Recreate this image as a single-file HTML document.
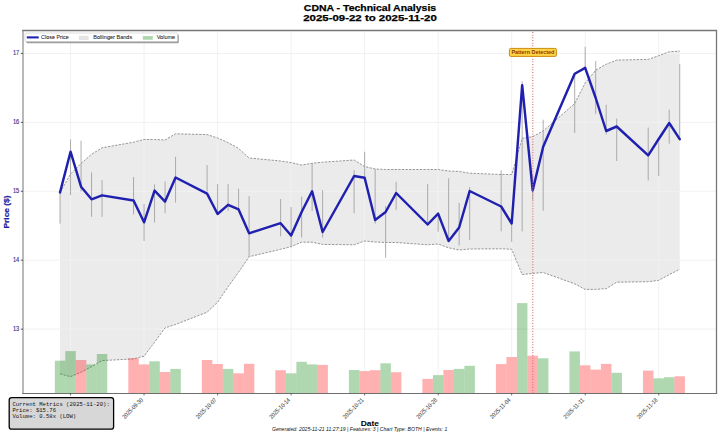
<!DOCTYPE html>
<html><head><meta charset="utf-8"><style>
html,body{margin:0;padding:0;background:#fff;}
body{width:720px;height:435px;overflow:hidden;}
svg{display:block;font-family:"Liberation Sans",sans-serif;}
</style></head><body>
<svg width="720" height="435" viewBox="0 0 720 435">
<defs><mask id="gm" maskUnits="userSpaceOnUse" x="0" y="0" width="720" height="435"><rect x="0" y="0" width="720" height="435" fill="#fff"/><rect x="54.49" y="360.7" width="11.1" height="34.8" fill="#000"/><rect x="64.99" y="351.1" width="11.1" height="44.4" fill="#000"/><rect x="75.49" y="360" width="11.1" height="35.5" fill="#000"/><rect x="86" y="364.4" width="11.1" height="31.1" fill="#000"/><rect x="96.5" y="354" width="11.1" height="41.5" fill="#000"/><rect x="128.01" y="358.2" width="11.1" height="37.3" fill="#000"/><rect x="138.51" y="364.4" width="11.1" height="31.1" fill="#000"/><rect x="149.02" y="361.3" width="11.1" height="34.2" fill="#000"/><rect x="159.52" y="372" width="11.1" height="23.5" fill="#000"/><rect x="170.02" y="368.9" width="11.1" height="26.6" fill="#000"/><rect x="201.53" y="360" width="11.1" height="35.5" fill="#000"/><rect x="212.03" y="364" width="11.1" height="31.5" fill="#000"/><rect x="222.54" y="368.9" width="11.1" height="26.6" fill="#000"/><rect x="233.04" y="373.3" width="11.1" height="22.2" fill="#000"/><rect x="243.54" y="363.8" width="11.1" height="31.7" fill="#000"/><rect x="275.05" y="370.2" width="11.1" height="25.3" fill="#000"/><rect x="285.55" y="373.3" width="11.1" height="22.2" fill="#000"/><rect x="296.06" y="361.8" width="11.1" height="33.7" fill="#000"/><rect x="306.56" y="364.4" width="11.1" height="31.1" fill="#000"/><rect x="317.06" y="364.9" width="11.1" height="30.6" fill="#000"/><rect x="348.57" y="370" width="11.1" height="25.5" fill="#000"/><rect x="359.08" y="371.1" width="11.1" height="24.4" fill="#000"/><rect x="369.58" y="370.2" width="11.1" height="25.3" fill="#000"/><rect x="380.08" y="363.3" width="11.1" height="32.2" fill="#000"/><rect x="390.58" y="372.2" width="11.1" height="23.3" fill="#000"/><rect x="422.09" y="378.9" width="11.1" height="16.6" fill="#000"/><rect x="432.6" y="375.1" width="11.1" height="20.4" fill="#000"/><rect x="443.1" y="370" width="11.1" height="25.5" fill="#000"/><rect x="453.6" y="368.9" width="11.1" height="26.6" fill="#000"/><rect x="464.11" y="365.8" width="11.1" height="29.7" fill="#000"/><rect x="495.61" y="364.1" width="11.1" height="31.4" fill="#000"/><rect x="506.12" y="357" width="11.1" height="38.5" fill="#000"/><rect x="516.62" y="303.1" width="11.1" height="92.4" fill="#000"/><rect x="527.12" y="355.7" width="11.1" height="39.8" fill="#000"/><rect x="537.63" y="358.3" width="11.1" height="37.2" fill="#000"/><rect x="569.14" y="351.4" width="11.1" height="44.1" fill="#000"/><rect x="579.64" y="365.3" width="11.1" height="30.2" fill="#000"/><rect x="590.14" y="369.6" width="11.1" height="25.9" fill="#000"/><rect x="600.64" y="363.9" width="11.1" height="31.6" fill="#000"/><rect x="611.15" y="372.8" width="11.1" height="22.7" fill="#000"/><rect x="642.66" y="370.6" width="11.1" height="24.9" fill="#000"/><rect x="653.16" y="378.3" width="11.1" height="17.2" fill="#000"/><rect x="663.66" y="377.2" width="11.1" height="18.3" fill="#000"/><rect x="674.17" y="376.3" width="11.1" height="19.2" fill="#000"/></mask><clipPath id="fc"><path d="M60.04 192.4 L70.54 174 L81.05 163.5 L91.55 154.3 L102.05 147.8 L133.56 142.2 L144.06 139.5 L154.57 139.5 L165.07 140 L175.57 133.8 L207.08 134.6 L217.59 138 L228.09 142.6 L238.59 148.4 L249.09 158 L280.6 161 L291.11 162.6 L301.61 165 L312.11 163.3 L322.62 162.2 L354.12 160 L364.63 166.5 L375.13 169 L385.63 169.5 L396.14 169.5 L427.65 169.5 L438.15 169.5 L448.65 171 L459.15 171.4 L469.66 173.2 L501.17 174.5 L511.67 174.5 L522.17 138.3 L532.67 136.7 L543.18 131 L574.69 103.6 L585.19 83 L595.69 70.2 L606.2 64.2 L616.7 60.1 L648.21 59.4 L658.71 55.7 L669.21 51.8 L679.72 51.1 L679.72 269.2 L669.21 274.7 L658.71 280.3 L648.21 281.7 L616.7 282.2 L606.2 288.6 L595.69 289.4 L585.19 289.4 L574.69 283.8 L543.18 272.5 L532.67 273.4 L522.17 274.6 L511.67 249.2 L501.17 248.8 L469.66 249 L459.15 250 L448.65 247.8 L438.15 244 L427.65 244.8 L396.14 242.5 L385.63 242.5 L375.13 242 L364.63 241 L354.12 244.8 L322.62 244.4 L312.11 242.2 L301.61 242.2 L291.11 246.7 L280.6 249.3 L249.09 256.7 L238.59 272.2 L228.09 286.7 L217.59 302.2 L207.08 312.2 L175.57 324.5 L165.07 327.8 L154.57 342.2 L144.06 356.2 L133.56 358.9 L102.05 360.6 L91.55 366.7 L81.05 372.2 L70.54 376.7 L60.04 373.8 Z"/></clipPath></defs>
<line x1="23.0" x2="716.5" y1="53.45" y2="53.45" stroke="#ececec" stroke-width="0.75"/>
<line x1="23.0" x2="716.5" y1="122.36" y2="122.36" stroke="#ececec" stroke-width="0.75"/>
<line x1="23.0" x2="716.5" y1="191.27" y2="191.27" stroke="#ececec" stroke-width="0.75"/>
<line x1="23.0" x2="716.5" y1="260.18" y2="260.18" stroke="#ececec" stroke-width="0.75"/>
<line x1="23.0" x2="716.5" y1="329.1" y2="329.1" stroke="#ececec" stroke-width="0.75"/>
<g mask="url(#gm)">
<line x1="70.54" x2="70.54" y1="30.5" y2="393.5" stroke="#ececec" stroke-width="0.75"/>
<line x1="144.06" x2="144.06" y1="30.5" y2="393.5" stroke="#ececec" stroke-width="0.75"/>
<line x1="217.59" x2="217.59" y1="30.5" y2="393.5" stroke="#ececec" stroke-width="0.75"/>
<line x1="291.11" x2="291.11" y1="30.5" y2="393.5" stroke="#ececec" stroke-width="0.75"/>
<line x1="364.63" x2="364.63" y1="30.5" y2="393.5" stroke="#ececec" stroke-width="0.75"/>
<line x1="438.15" x2="438.15" y1="30.5" y2="393.5" stroke="#ececec" stroke-width="0.75"/>
<line x1="511.67" x2="511.67" y1="30.5" y2="393.5" stroke="#ececec" stroke-width="0.75"/>
<line x1="585.19" x2="585.19" y1="30.5" y2="393.5" stroke="#ececec" stroke-width="0.75"/>
<line x1="658.71" x2="658.71" y1="30.5" y2="393.5" stroke="#ececec" stroke-width="0.75"/>
</g>
<path d="M60.04 192.4 L70.54 174 L81.05 163.5 L91.55 154.3 L102.05 147.8 L133.56 142.2 L144.06 139.5 L154.57 139.5 L165.07 140 L175.57 133.8 L207.08 134.6 L217.59 138 L228.09 142.6 L238.59 148.4 L249.09 158 L280.6 161 L291.11 162.6 L301.61 165 L312.11 163.3 L322.62 162.2 L354.12 160 L364.63 166.5 L375.13 169 L385.63 169.5 L396.14 169.5 L427.65 169.5 L438.15 169.5 L448.65 171 L459.15 171.4 L469.66 173.2 L501.17 174.5 L511.67 174.5 L522.17 138.3 L532.67 136.7 L543.18 131 L574.69 103.6 L585.19 83 L595.69 70.2 L606.2 64.2 L616.7 60.1 L648.21 59.4 L658.71 55.7 L669.21 51.8 L679.72 51.1 L679.72 269.2 L669.21 274.7 L658.71 280.3 L648.21 281.7 L616.7 282.2 L606.2 288.6 L595.69 289.4 L585.19 289.4 L574.69 283.8 L543.18 272.5 L532.67 273.4 L522.17 274.6 L511.67 249.2 L501.17 248.8 L469.66 249 L459.15 250 L448.65 247.8 L438.15 244 L427.65 244.8 L396.14 242.5 L385.63 242.5 L375.13 242 L364.63 241 L354.12 244.8 L322.62 244.4 L312.11 242.2 L301.61 242.2 L291.11 246.7 L280.6 249.3 L249.09 256.7 L238.59 272.2 L228.09 286.7 L217.59 302.2 L207.08 312.2 L175.57 324.5 L165.07 327.8 L154.57 342.2 L144.06 356.2 L133.56 358.9 L102.05 360.6 L91.55 366.7 L81.05 372.2 L70.54 376.7 L60.04 373.8 Z" fill="#ebebeb"/>
<g clip-path="url(#fc)">
<line x1="23.0" x2="716.5" y1="53.45" y2="53.45" stroke="#f3f3f3" stroke-width="0.75"/>
<line x1="23.0" x2="716.5" y1="122.36" y2="122.36" stroke="#f3f3f3" stroke-width="0.75"/>
<line x1="23.0" x2="716.5" y1="191.27" y2="191.27" stroke="#f3f3f3" stroke-width="0.75"/>
<line x1="23.0" x2="716.5" y1="260.18" y2="260.18" stroke="#f3f3f3" stroke-width="0.75"/>
<line x1="23.0" x2="716.5" y1="329.1" y2="329.1" stroke="#f3f3f3" stroke-width="0.75"/>
<g mask="url(#gm)">
<line x1="70.54" x2="70.54" y1="30.5" y2="393.5" stroke="#f3f3f3" stroke-width="0.75"/>
<line x1="144.06" x2="144.06" y1="30.5" y2="393.5" stroke="#f3f3f3" stroke-width="0.75"/>
<line x1="217.59" x2="217.59" y1="30.5" y2="393.5" stroke="#f3f3f3" stroke-width="0.75"/>
<line x1="291.11" x2="291.11" y1="30.5" y2="393.5" stroke="#f3f3f3" stroke-width="0.75"/>
<line x1="364.63" x2="364.63" y1="30.5" y2="393.5" stroke="#f3f3f3" stroke-width="0.75"/>
<line x1="438.15" x2="438.15" y1="30.5" y2="393.5" stroke="#f3f3f3" stroke-width="0.75"/>
<line x1="511.67" x2="511.67" y1="30.5" y2="393.5" stroke="#f3f3f3" stroke-width="0.75"/>
<line x1="585.19" x2="585.19" y1="30.5" y2="393.5" stroke="#f3f3f3" stroke-width="0.75"/>
<line x1="658.71" x2="658.71" y1="30.5" y2="393.5" stroke="#f3f3f3" stroke-width="0.75"/>
</g>
</g>
<polyline points="60.04,192.4 70.54,174 81.05,163.5 91.55,154.3 102.05,147.8 133.56,142.2 144.06,139.5 154.57,139.5 165.07,140 175.57,133.8 207.08,134.6 217.59,138 228.09,142.6 238.59,148.4 249.09,158 280.6,161 291.11,162.6 301.61,165 312.11,163.3 322.62,162.2 354.12,160 364.63,166.5 375.13,169 385.63,169.5 396.14,169.5 427.65,169.5 438.15,169.5 448.65,171 459.15,171.4 469.66,173.2 501.17,174.5 511.67,174.5 522.17,138.3 532.67,136.7 543.18,131 574.69,103.6 585.19,83 595.69,70.2 606.2,64.2 616.7,60.1 648.21,59.4 658.71,55.7 669.21,51.8 679.72,51.1" fill="none" stroke="#8c8c8c" stroke-width="0.9" stroke-dasharray="2.3 1.3"/>
<polyline points="60.04,373.8 70.54,376.7 81.05,372.2 91.55,366.7 102.05,360.6 133.56,358.9 144.06,356.2 154.57,342.2 165.07,327.8 175.57,324.5 207.08,312.2 217.59,302.2 228.09,286.7 238.59,272.2 249.09,256.7 280.6,249.3 291.11,246.7 301.61,242.2 312.11,242.2 322.62,244.4 354.12,244.8 364.63,241 375.13,242 385.63,242.5 396.14,242.5 427.65,244.8 438.15,244 448.65,247.8 459.15,250 469.66,249 501.17,248.8 511.67,249.2 522.17,274.6 532.67,273.4 543.18,272.5 574.69,283.8 585.19,289.4 595.69,289.4 606.2,288.6 616.7,282.2 648.21,281.7 658.71,280.3 669.21,274.7 679.72,269.2" fill="none" stroke="#8c8c8c" stroke-width="0.9" stroke-dasharray="2.3 1.3"/>
<rect x="54.79" y="360.7" width="10.5" height="32.8" fill="rgba(0,128,0,0.31)"/>
<rect x="65.29" y="351.1" width="10.5" height="42.4" fill="rgba(0,128,0,0.31)"/>
<rect x="75.79" y="360" width="10.5" height="33.5" fill="rgba(255,0,0,0.31)"/>
<rect x="86.3" y="364.4" width="10.5" height="29.1" fill="rgba(0,128,0,0.31)"/>
<rect x="96.8" y="354" width="10.5" height="39.5" fill="rgba(0,128,0,0.31)"/>
<rect x="128.31" y="358.2" width="10.5" height="35.3" fill="rgba(255,0,0,0.31)"/>
<rect x="138.81" y="364.4" width="10.5" height="29.1" fill="rgba(255,0,0,0.31)"/>
<rect x="149.32" y="361.3" width="10.5" height="32.2" fill="rgba(0,128,0,0.31)"/>
<rect x="159.82" y="372" width="10.5" height="21.5" fill="rgba(255,0,0,0.31)"/>
<rect x="170.32" y="368.9" width="10.5" height="24.6" fill="rgba(0,128,0,0.31)"/>
<rect x="201.83" y="360" width="10.5" height="33.5" fill="rgba(255,0,0,0.31)"/>
<rect x="212.33" y="364" width="10.5" height="29.5" fill="rgba(255,0,0,0.31)"/>
<rect x="222.84" y="368.9" width="10.5" height="24.6" fill="rgba(0,128,0,0.31)"/>
<rect x="233.34" y="373.3" width="10.5" height="20.2" fill="rgba(255,0,0,0.31)"/>
<rect x="243.84" y="363.8" width="10.5" height="29.7" fill="rgba(255,0,0,0.31)"/>
<rect x="275.35" y="370.2" width="10.5" height="23.3" fill="rgba(255,0,0,0.31)"/>
<rect x="285.85" y="373.3" width="10.5" height="20.2" fill="rgba(0,128,0,0.31)"/>
<rect x="296.36" y="361.8" width="10.5" height="31.7" fill="rgba(0,128,0,0.31)"/>
<rect x="306.86" y="364.4" width="10.5" height="29.1" fill="rgba(0,128,0,0.31)"/>
<rect x="317.36" y="364.9" width="10.5" height="28.6" fill="rgba(255,0,0,0.31)"/>
<rect x="348.87" y="370" width="10.5" height="23.5" fill="rgba(0,128,0,0.31)"/>
<rect x="359.38" y="371.1" width="10.5" height="22.4" fill="rgba(255,0,0,0.31)"/>
<rect x="369.88" y="370.2" width="10.5" height="23.3" fill="rgba(255,0,0,0.31)"/>
<rect x="380.38" y="363.3" width="10.5" height="30.2" fill="rgba(0,128,0,0.31)"/>
<rect x="390.88" y="372.2" width="10.5" height="21.3" fill="rgba(255,0,0,0.31)"/>
<rect x="422.39" y="378.9" width="10.5" height="14.6" fill="rgba(255,0,0,0.31)"/>
<rect x="432.9" y="375.1" width="10.5" height="18.4" fill="rgba(0,128,0,0.31)"/>
<rect x="443.4" y="370" width="10.5" height="23.5" fill="rgba(255,0,0,0.31)"/>
<rect x="453.9" y="368.9" width="10.5" height="24.6" fill="rgba(0,128,0,0.31)"/>
<rect x="464.41" y="365.8" width="10.5" height="27.7" fill="rgba(0,128,0,0.31)"/>
<rect x="495.91" y="364.1" width="10.5" height="29.4" fill="rgba(255,0,0,0.31)"/>
<rect x="506.42" y="357" width="10.5" height="36.5" fill="rgba(255,0,0,0.31)"/>
<rect x="516.92" y="303.1" width="10.5" height="90.4" fill="rgba(0,128,0,0.31)"/>
<rect x="527.42" y="355.7" width="10.5" height="37.8" fill="rgba(255,0,0,0.31)"/>
<rect x="537.93" y="358.3" width="10.5" height="35.2" fill="rgba(0,128,0,0.31)"/>
<rect x="569.44" y="351.4" width="10.5" height="42.1" fill="rgba(0,128,0,0.31)"/>
<rect x="579.94" y="365.3" width="10.5" height="28.2" fill="rgba(255,0,0,0.31)"/>
<rect x="590.44" y="369.6" width="10.5" height="23.9" fill="rgba(255,0,0,0.31)"/>
<rect x="600.94" y="363.9" width="10.5" height="29.6" fill="rgba(255,0,0,0.31)"/>
<rect x="611.45" y="372.8" width="10.5" height="20.7" fill="rgba(0,128,0,0.31)"/>
<rect x="642.96" y="370.6" width="10.5" height="22.9" fill="rgba(255,0,0,0.31)"/>
<rect x="653.46" y="378.3" width="10.5" height="15.2" fill="rgba(0,128,0,0.31)"/>
<rect x="663.96" y="377.2" width="10.5" height="16.3" fill="rgba(0,128,0,0.31)"/>
<rect x="674.47" y="376.3" width="10.5" height="17.2" fill="rgba(255,0,0,0.31)"/>
<line x1="60.04" x2="60.04" y1="192.4" y2="223.7" stroke="#9a9a9a" stroke-width="0.95" stroke-opacity="0.85"/>
<line x1="70.54" x2="70.54" y1="139.5" y2="195" stroke="#9a9a9a" stroke-width="0.95" stroke-opacity="0.85"/>
<line x1="81.05" x2="81.05" y1="140.7" y2="191.5" stroke="#9a9a9a" stroke-width="0.95" stroke-opacity="0.85"/>
<line x1="91.55" x2="91.55" y1="172.4" y2="216.8" stroke="#9a9a9a" stroke-width="0.95" stroke-opacity="0.85"/>
<line x1="102.05" x2="102.05" y1="180.2" y2="216.8" stroke="#9a9a9a" stroke-width="0.95" stroke-opacity="0.85"/>
<line x1="133.56" x2="133.56" y1="177" y2="214.5" stroke="#9a9a9a" stroke-width="0.95" stroke-opacity="0.85"/>
<line x1="144.06" x2="144.06" y1="204" y2="241" stroke="#9a9a9a" stroke-width="0.95" stroke-opacity="0.85"/>
<line x1="154.57" x2="154.57" y1="184.4" y2="222.5" stroke="#9a9a9a" stroke-width="0.95" stroke-opacity="0.85"/>
<line x1="165.07" x2="165.07" y1="181.6" y2="213.3" stroke="#9a9a9a" stroke-width="0.95" stroke-opacity="0.85"/>
<line x1="175.57" x2="175.57" y1="156.8" y2="202.5" stroke="#9a9a9a" stroke-width="0.95" stroke-opacity="0.85"/>
<line x1="207.08" x2="207.08" y1="165" y2="191.5" stroke="#9a9a9a" stroke-width="0.95" stroke-opacity="0.85"/>
<line x1="217.59" x2="217.59" y1="184" y2="214.5" stroke="#9a9a9a" stroke-width="0.95" stroke-opacity="0.85"/>
<line x1="228.09" x2="228.09" y1="184" y2="211" stroke="#9a9a9a" stroke-width="0.95" stroke-opacity="0.85"/>
<line x1="238.59" x2="238.59" y1="188.6" y2="210" stroke="#9a9a9a" stroke-width="0.95" stroke-opacity="0.85"/>
<line x1="249.09" x2="249.09" y1="196.2" y2="257" stroke="#9a9a9a" stroke-width="0.95" stroke-opacity="0.85"/>
<line x1="280.6" x2="280.6" y1="199" y2="236.3" stroke="#9a9a9a" stroke-width="0.95" stroke-opacity="0.85"/>
<line x1="291.11" x2="291.11" y1="207" y2="246.7" stroke="#9a9a9a" stroke-width="0.95" stroke-opacity="0.85"/>
<line x1="301.61" x2="301.61" y1="196.7" y2="237.5" stroke="#9a9a9a" stroke-width="0.95" stroke-opacity="0.85"/>
<line x1="312.11" x2="312.11" y1="163.3" y2="211" stroke="#9a9a9a" stroke-width="0.95" stroke-opacity="0.85"/>
<line x1="322.62" x2="322.62" y1="190.2" y2="237.5" stroke="#9a9a9a" stroke-width="0.95" stroke-opacity="0.85"/>
<line x1="354.12" x2="354.12" y1="170.2" y2="213.3" stroke="#9a9a9a" stroke-width="0.95" stroke-opacity="0.85"/>
<line x1="364.63" x2="364.63" y1="151.8" y2="178" stroke="#9a9a9a" stroke-width="0.95" stroke-opacity="0.85"/>
<line x1="375.13" x2="375.13" y1="169" y2="223.7" stroke="#9a9a9a" stroke-width="0.95" stroke-opacity="0.85"/>
<line x1="385.63" x2="385.63" y1="205.9" y2="257.7" stroke="#9a9a9a" stroke-width="0.95" stroke-opacity="0.85"/>
<line x1="396.14" x2="396.14" y1="181.7" y2="209.9" stroke="#9a9a9a" stroke-width="0.95" stroke-opacity="0.85"/>
<line x1="427.65" x2="427.65" y1="184" y2="226" stroke="#9a9a9a" stroke-width="0.95" stroke-opacity="0.85"/>
<line x1="438.15" x2="438.15" y1="212.8" y2="231.7" stroke="#9a9a9a" stroke-width="0.95" stroke-opacity="0.85"/>
<line x1="448.65" x2="448.65" y1="178.3" y2="239.8" stroke="#9a9a9a" stroke-width="0.95" stroke-opacity="0.85"/>
<line x1="459.15" x2="459.15" y1="203" y2="245.5" stroke="#9a9a9a" stroke-width="0.95" stroke-opacity="0.85"/>
<line x1="469.66" x2="469.66" y1="187" y2="239.8" stroke="#9a9a9a" stroke-width="0.95" stroke-opacity="0.85"/>
<line x1="501.17" x2="501.17" y1="170.4" y2="231.4" stroke="#9a9a9a" stroke-width="0.95" stroke-opacity="0.85"/>
<line x1="511.67" x2="511.67" y1="223" y2="241.8" stroke="#9a9a9a" stroke-width="0.95" stroke-opacity="0.85"/>
<line x1="522.17" x2="522.17" y1="81.4" y2="231.4" stroke="#9a9a9a" stroke-width="0.95" stroke-opacity="0.85"/>
<line x1="532.67" x2="532.67" y1="175" y2="200" stroke="#9a9a9a" stroke-width="0.95" stroke-opacity="0.85"/>
<line x1="543.18" x2="543.18" y1="119.7" y2="210.7" stroke="#9a9a9a" stroke-width="0.95" stroke-opacity="0.85"/>
<line x1="574.69" x2="574.69" y1="73.7" y2="133" stroke="#9a9a9a" stroke-width="0.95" stroke-opacity="0.85"/>
<line x1="585.19" x2="585.19" y1="46.8" y2="67.9" stroke="#9a9a9a" stroke-width="0.95" stroke-opacity="0.85"/>
<line x1="595.69" x2="595.69" y1="61" y2="113.9" stroke="#9a9a9a" stroke-width="0.95" stroke-opacity="0.85"/>
<line x1="606.2" x2="606.2" y1="104.7" y2="134.5" stroke="#9a9a9a" stroke-width="0.95" stroke-opacity="0.85"/>
<line x1="616.7" x2="616.7" y1="118.5" y2="161" stroke="#9a9a9a" stroke-width="0.95" stroke-opacity="0.85"/>
<line x1="648.21" x2="648.21" y1="127.6" y2="180.5" stroke="#9a9a9a" stroke-width="0.95" stroke-opacity="0.85"/>
<line x1="658.71" x2="658.71" y1="142.5" y2="175.9" stroke="#9a9a9a" stroke-width="0.95" stroke-opacity="0.85"/>
<line x1="669.21" x2="669.21" y1="109.7" y2="143.7" stroke="#9a9a9a" stroke-width="0.95" stroke-opacity="0.85"/>
<line x1="679.72" x2="679.72" y1="64" y2="139.1" stroke="#9a9a9a" stroke-width="0.95" stroke-opacity="0.85"/>
<polyline points="60.04,192.4 70.54,151.7 81.05,186.7 91.55,199.3 102.05,195.4 133.56,200.5 144.06,222.3 154.57,190.6 165.07,201.6 175.57,177.5 207.08,193.6 217.59,214 228.09,204.8 238.59,209.4 249.09,233.3 280.6,223.2 291.11,235.5 301.61,212 312.11,191.3 322.62,232 354.12,176 364.63,177.8 375.13,220 385.63,212 396.14,193 427.65,224.5 438.15,213.6 448.65,241 459.15,227.5 469.66,191 501.17,206.5 511.67,223.5 522.17,85.2 532.67,190.4 543.18,146.8 574.69,73.7 585.19,67.9 595.69,98 606.2,131 616.7,126.5 648.21,155.3 658.71,139 669.21,123 679.72,139.1" fill="none" stroke="#2020b0" stroke-width="2.45" stroke-linejoin="round" stroke-linecap="round"/>
<line x1="532.8" x2="532.8" y1="30.5" y2="393.5" stroke="#d46e6e" stroke-width="1.1" stroke-dasharray="1 1.67" stroke-dashoffset="1.2"/>
<line x1="23.0" x2="23.0" y1="29.9" y2="394.0" stroke="#a2a2a2" stroke-width="1.5"/>
<line x1="716.5" x2="716.5" y1="29.9" y2="394.0" stroke="#777" stroke-width="1.3"/>
<line x1="22.3" x2="717.1" y1="30.5" y2="30.5" stroke="#777" stroke-width="1.3"/>
<line x1="22.3" x2="717.1" y1="393.5" y2="393.5" stroke="#6e6e6e" stroke-width="1.0"/>
<line x1="20.8" x2="23.0" y1="53.45" y2="53.45" stroke="#333" stroke-width="0.8"/>
<text x="19.2" y="55.25" text-anchor="end" font-size="6.3" fill="#2a2a8c" stroke="#2a2a8c" stroke-width="0.12" textLength="6.3" lengthAdjust="spacingAndGlyphs">17</text>
<line x1="20.8" x2="23.0" y1="122.36" y2="122.36" stroke="#333" stroke-width="0.8"/>
<text x="19.2" y="124.16" text-anchor="end" font-size="6.3" fill="#2a2a8c" stroke="#2a2a8c" stroke-width="0.12" textLength="6.3" lengthAdjust="spacingAndGlyphs">16</text>
<line x1="20.8" x2="23.0" y1="191.27" y2="191.27" stroke="#333" stroke-width="0.8"/>
<text x="19.2" y="193.07" text-anchor="end" font-size="6.3" fill="#2a2a8c" stroke="#2a2a8c" stroke-width="0.12" textLength="6.3" lengthAdjust="spacingAndGlyphs">15</text>
<line x1="20.8" x2="23.0" y1="260.18" y2="260.18" stroke="#333" stroke-width="0.8"/>
<text x="19.2" y="261.98" text-anchor="end" font-size="6.3" fill="#2a2a8c" stroke="#2a2a8c" stroke-width="0.12" textLength="6.3" lengthAdjust="spacingAndGlyphs">14</text>
<line x1="20.8" x2="23.0" y1="329.1" y2="329.1" stroke="#333" stroke-width="0.8"/>
<text x="19.2" y="330.9" text-anchor="end" font-size="6.3" fill="#2a2a8c" stroke="#2a2a8c" stroke-width="0.12" textLength="6.3" lengthAdjust="spacingAndGlyphs">13</text>
<line x1="70.54" x2="70.54" y1="393.5" y2="395.4" stroke="#444" stroke-width="0.8"/>
<text x="69.94" y="400.4" text-anchor="end" font-size="6.1" fill="#2a2a2a" textLength="26.6" lengthAdjust="spacingAndGlyphs" transform="rotate(-45 69.94 400.4)">2025-09-23</text>
<line x1="144.06" x2="144.06" y1="393.5" y2="395.4" stroke="#444" stroke-width="0.8"/>
<text x="143.46" y="400.4" text-anchor="end" font-size="6.1" fill="#2a2a2a" textLength="26.6" lengthAdjust="spacingAndGlyphs" transform="rotate(-45 143.46 400.4)">2025-09-30</text>
<line x1="217.59" x2="217.59" y1="393.5" y2="395.4" stroke="#444" stroke-width="0.8"/>
<text x="216.99" y="400.4" text-anchor="end" font-size="6.1" fill="#2a2a2a" textLength="26.6" lengthAdjust="spacingAndGlyphs" transform="rotate(-45 216.99 400.4)">2025-10-07</text>
<line x1="291.11" x2="291.11" y1="393.5" y2="395.4" stroke="#444" stroke-width="0.8"/>
<text x="290.51" y="400.4" text-anchor="end" font-size="6.1" fill="#2a2a2a" textLength="26.6" lengthAdjust="spacingAndGlyphs" transform="rotate(-45 290.51 400.4)">2025-10-14</text>
<line x1="364.63" x2="364.63" y1="393.5" y2="395.4" stroke="#444" stroke-width="0.8"/>
<text x="364.03" y="400.4" text-anchor="end" font-size="6.1" fill="#2a2a2a" textLength="26.6" lengthAdjust="spacingAndGlyphs" transform="rotate(-45 364.03 400.4)">2025-10-21</text>
<line x1="438.15" x2="438.15" y1="393.5" y2="395.4" stroke="#444" stroke-width="0.8"/>
<text x="437.55" y="400.4" text-anchor="end" font-size="6.1" fill="#2a2a2a" textLength="26.6" lengthAdjust="spacingAndGlyphs" transform="rotate(-45 437.55 400.4)">2025-10-28</text>
<line x1="511.67" x2="511.67" y1="393.5" y2="395.4" stroke="#444" stroke-width="0.8"/>
<text x="511.07" y="400.4" text-anchor="end" font-size="6.1" fill="#2a2a2a" textLength="26.6" lengthAdjust="spacingAndGlyphs" transform="rotate(-45 511.07 400.4)">2025-11-04</text>
<line x1="585.19" x2="585.19" y1="393.5" y2="395.4" stroke="#444" stroke-width="0.8"/>
<text x="584.59" y="400.4" text-anchor="end" font-size="6.1" fill="#2a2a2a" textLength="26.6" lengthAdjust="spacingAndGlyphs" transform="rotate(-45 584.59 400.4)">2025-11-11</text>
<line x1="658.71" x2="658.71" y1="393.5" y2="395.4" stroke="#444" stroke-width="0.8"/>
<text x="658.11" y="400.4" text-anchor="end" font-size="6.1" fill="#2a2a2a" textLength="26.6" lengthAdjust="spacingAndGlyphs" transform="rotate(-45 658.11 400.4)">2025-11-18</text>
<rect x="26.3" y="34.5" width="152.5" height="8.7" rx="1.2" fill="#828282" opacity="0.8"/>
<rect x="25" y="33" width="152.5" height="8.6" rx="1.2" fill="#fff" stroke="#c8c8c8" stroke-width="0.6"/>
<line x1="26.8" x2="38.7" y1="37.4" y2="37.4" stroke="#2222b0" stroke-width="2.1"/>
<text x="41.1" y="39.45" font-size="5.4" fill="#1a1a1a" stroke="#1a1a1a" stroke-width="0.06" textLength="27.6" lengthAdjust="spacingAndGlyphs">Close Price</text>
<rect x="79.2" y="36.1" width="9.1" height="3.6" fill="#e6e6e6" stroke="#d6d6d6" stroke-width="0.4"/>
<text x="93.3" y="39.45" font-size="5.4" fill="#1a1a1a" stroke="#1a1a1a" stroke-width="0.06" textLength="38.9" lengthAdjust="spacingAndGlyphs">Bollinger Bands</text>
<rect x="142.8" y="36.1" width="10" height="3.6" fill="rgba(0,128,0,0.33)"/>
<text x="156.7" y="39.45" font-size="5.4" fill="#1a1a1a" stroke="#1a1a1a" stroke-width="0.06" textLength="18.5" lengthAdjust="spacingAndGlyphs">Volume</text>
<rect x="509.4" y="48.4" width="47" height="8" rx="1.3" fill="#ffd447" stroke="#c97f00" stroke-width="0.9"/>
<text x="532.9" y="54.4" text-anchor="middle" font-size="4.7" font-weight="bold" fill="#8f3a00" textLength="43" lengthAdjust="spacingAndGlyphs">Pattern Detected</text>
<text x="370" y="11.1" text-anchor="middle" font-size="9.8" font-weight="bold" fill="#000" stroke="#000" stroke-width="0.25" textLength="132.3" lengthAdjust="spacingAndGlyphs">CDNA - Technical Analysis</text>
<text x="370" y="20.7" text-anchor="middle" font-size="9.8" font-weight="bold" fill="#000" stroke="#000" stroke-width="0.25" textLength="133.6" lengthAdjust="spacingAndGlyphs">2025-09-22 to 2025-11-20</text>
<text x="9.3" y="212" text-anchor="middle" font-size="6.7" font-weight="bold" fill="#1c1c9c" stroke="#1c1c9c" stroke-width="0.2" textLength="33" lengthAdjust="spacingAndGlyphs" transform="rotate(-90 9.3 212)">Price ($)</text>
<text x="369.8" y="425.9" text-anchor="middle" font-size="6.9" font-weight="bold" fill="#000" textLength="18.3" lengthAdjust="spacingAndGlyphs">Date</text>
<text x="359.6" y="430.9" text-anchor="middle" font-size="4.8" font-style="italic" fill="#111" textLength="175.3" lengthAdjust="spacingAndGlyphs">Generated: 2025-11-21 11:27:19 | Features: 3 | Chart Type: BOTH | Events: 1</text>
<rect x="9.2" y="397.6" width="104.4" height="31.6" rx="2.5" fill="#d7d7d7" stroke="#000" stroke-width="1.3"/>
<text x="12.4" y="405.8" font-family="Liberation Mono, monospace" font-size="5.6" fill="#111" xml:space="preserve">Current Metrics (2025-11-20):</text>
<text x="12.4" y="412.05" font-family="Liberation Mono, monospace" font-size="5.6" fill="#111" xml:space="preserve">Price: $15.76</text>
<text x="12.4" y="418.3" font-family="Liberation Mono, monospace" font-size="5.6" fill="#111" xml:space="preserve">Volume: 0.58x (LOW)</text>
</svg>
</body></html>
